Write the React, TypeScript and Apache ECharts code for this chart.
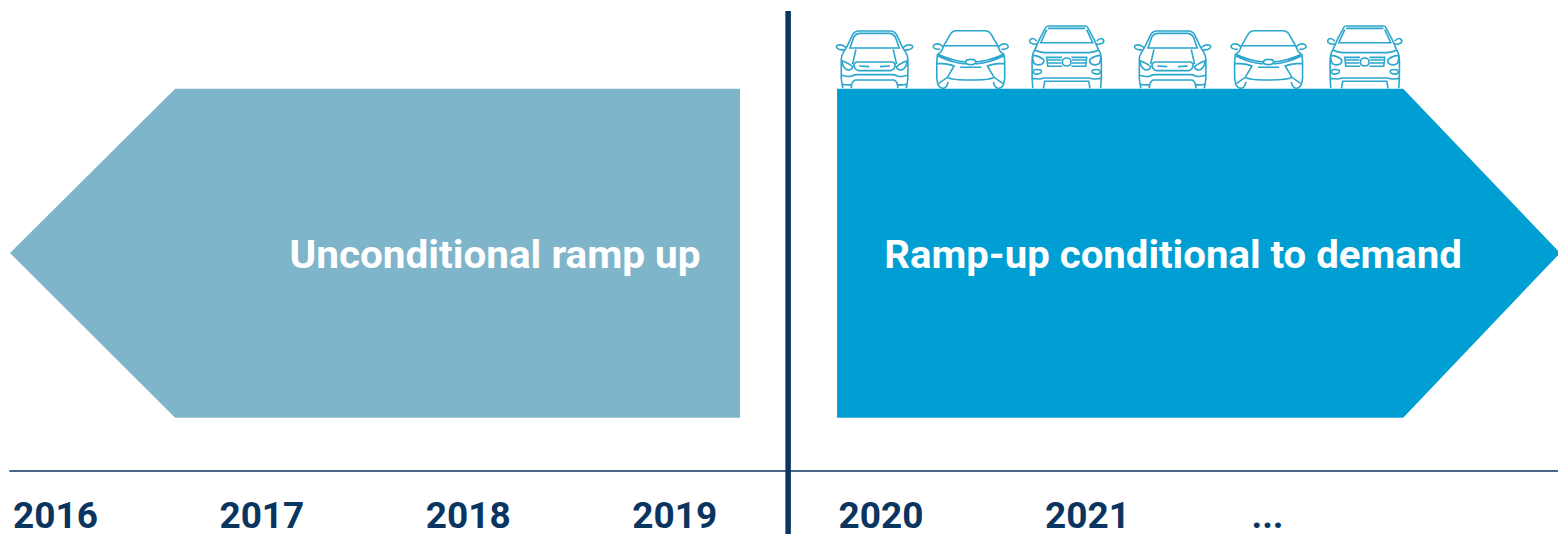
import React, { useEffect, useRef } from "react";
import * as echarts from "echarts";

const yearLabels = ["2016", "2017", "2018", "2019", "2020", "2021", "..."];

// [tail, shoulder, tip] of each arrow along the year axis
const unconditionalSpan = [2019.537, 2016.8, 2016];
const conditionalSpan = [2020.007, 2022.75, 2023.51];
const arrowBand = [53.3, 382.3, 218];
const textLevel = 215.5;
const dividerYear = 2019.77;
const dividerExtent = [-63, 460];

const unconditionalText = "Unconditional ramp up";
const conditionalText = "Ramp-up conditional to demand";

const carYears = [2020.189, 2020.655, 2021.12, 2021.633, 2022.098, 2022.564];
const carModels = ["carA", "carB", "carC", "carA", "carB", "carC"];

const NAVY = "#0b3561";
const LIGHT = "#7fb5ca";
const BLUE = "#009fd3";
const CAR_LINE = "#2ba6cd";

// Cars are symmetric: each outline is written for the left half and reflected about x = 128
const reflect = (d: string) =>
  d.replace(/(-?\d+(?:\.\d+)?) (-?\d+(?:\.\d+)?)/g, (_m, x, y) => `${256 - Number(x)} ${y}`);
const symmetric = (d: string) => `${d} ${reflect(d)}`;

const carAPath = symmetric(
  [
    "M 128 19 L 78 19 Q 68 20 62 30 L 44 68",
    "M 128 26 L 82 26 Q 72 27 66 36 L 54 70 L 128 70",
    "M 44 72 Q 36 60 22 60 Q 12 62 14 68 Q 18 76 38 76",
    "M 44 68 L 34 84 Q 28 92 28 104 L 28 160 L 30 178 L 33 191",
    "M 30 108 Q 42 112 58 122 Q 64 126 60 132 Q 50 140 40 132 Q 30 122 30 108",
    "M 72 74 L 62 118",
    "M 128 112 L 75 112 Q 66 114 66 124 Q 70 136 80 138 L 128 138",
    "M 82 124 L 112 126",
    "M 30 152 Q 50 158 60 154 Q 66 150 76 150 L 128 150",
    "M 128 166 L 70 166 Q 58 170 58 191",
    "M 30 178 Q 44 182 58 180",
  ].join(" ")
);

const carBPath = symmetric(
  [
    "M 128 18 L 85 18 Q 72 18 66 30 L 47 63 L 128 63",
    "M 44 66 Q 36 56 24 58 Q 14 60 16 68 Q 20 74 36 74",
    "M 47 63 L 40 80 L 28 90 L 26 110 L 26 160 Q 28 176 30 180",
    "M 28 88 Q 70 108 112 112",
    "M 30 94 Q 70 114 112 118",
    "M 128 104 Q 114 104 112 112 Q 114 120 128 120",
    "M 28 116 Q 60 116 78 124 L 58 158 L 32 176",
    "M 96 128 L 128 128",
    "M 58 158 Q 70 166 128 166",
    "M 30 180 Q 36 192 46 191 Q 56 190 60 172",
  ].join(" ")
);

const carCPath = symmetric(
  [
    "M 128 16 L 72 16 Q 66 16 64 22 L 46 56",
    "M 128 23 L 72 23",
    "M 128 66 L 50 66 L 68 27",
    "M 38 62 Q 30 52 22 54 Q 14 58 18 66 Q 26 72 38 70",
    "M 46 56 L 32 88 Q 24 100 24 120 L 24 170 L 26 203",
    "M 128 96 L 60 96 Q 42 94 32 88",
    "M 26 104 Q 42 104 58 116 Q 62 122 54 130 Q 40 136 30 128 Q 24 116 26 104",
    "M 114 110 L 68 110 L 71 137 L 114 137",
    "M 72 118 L 112 118",
    "M 72 127 L 112 127",
    "M 128 112 Q 115 112 115 124 Q 115 136 128 136",
    "M 28 150 Q 34 144 50 148 Q 55 154 48 158 Q 34 164 28 156 Q 27 153 28 150",
    "M 24 172 Q 44 178 60 172 L 128 172",
    "M 58 203 L 62 182 L 128 182",
  ].join(" ")
);

echarts.graphic.registerShape("carA", echarts.graphic.extendPath(carAPath, {}));
echarts.graphic.registerShape("carB", echarts.graphic.extendPath(carBPath, {}));
echarts.graphic.registerShape("carC", echarts.graphic.extendPath(carCPath, {}));

const CAR_BASE: Record<string, number> = { carA: 192, carB: 192, carC: 204 };
const CAR_SCALE = 1 / 3;

const renderArrow = (span: number[], fill: string, label: string, textYear: number, textScale: number) =>
  (_p: any, api: any) => {
    const [tail, shoulder, tip] = span;
    const [low, high, mid] = arrowBand;
    const points = [
      api.coord([tail, low]),
      api.coord([tail, high]),
      api.coord([shoulder, high]),
      api.coord([tip, mid]),
      api.coord([shoulder, low]),
    ];
    const t = api.coord([textYear, textLevel]);
    return {
      type: "group",
      children: [
        { type: "polygon", shape: { points }, style: { fill } },
        {
          type: "text",
          x: t[0],
          y: t[1],
          scaleX: textScale,
          style: {
            text: label,
            fill: "#ffffff",
            font: "bold 38px Roboto, sans-serif",
            textAlign: "center",
            textVerticalAlign: "middle",
          },
        },
      ],
    };
  };

export default function App() {
  const ref = useRef<HTMLDivElement>(null);
  useEffect(() => {
    const chart = echarts.init(ref.current!, null, { renderer: "svg" });
    chart.setOption({
      animation: false,
      backgroundColor: "#ffffff",
      grid: { left: 10, right: 0, top: 11, bottom: 66 },
      xAxis: {
        type: "value",
        min: 2016,
        max: 2023.5,
        interval: 1,
        splitLine: { show: false },
        axisTick: { show: false },
        axisLine: { show: true, lineStyle: { color: NAVY, width: 1.6 } },
        axisLabel: {
          color: NAVY,
          fontFamily: "Roboto, sans-serif",
          fontWeight: "bold",
          fontSize: 37,
          align: "left",
          margin: 26,
          padding: [0, 0, 0, 3],
          showMaxLabel: false,
          formatter: (v: number) => yearLabels[Math.round(v) - 2016] ?? "",
        },
      },
      yAxis: { type: "value", min: 0, max: 460, show: false },
      series: [
        {
          type: "custom",
          data: [[0, 0]],
          renderItem: renderArrow(unconditionalSpan, LIGHT, unconditionalText, 2018.35, 1.065),
        },
        {
          type: "custom",
          data: [[0, 0]],
          renderItem: renderArrow(conditionalSpan, BLUE, conditionalText, 2021.635, 1.057),
        },
        {
          type: "custom",
          data: carYears.map((year, i) => [year, arrowBand[1], i]),
          renderItem: (_p: any, api: any) => {
            const pt = api.coord([api.value(0), api.value(1)]);
            const model = carModels[api.value(2)];
            return {
              type: model,
              x: pt[0] - 128 * CAR_SCALE,
              y: pt[1] - CAR_BASE[model] * CAR_SCALE,
              scaleX: CAR_SCALE,
              scaleY: CAR_SCALE,
              style: { fill: "none", stroke: CAR_LINE, lineWidth: 4.8 },
            };
          },
        },
        {
          type: "custom",
          data: [[dividerYear, 0]],
          renderItem: (_p: any, api: any) => {
            const a = api.coord([dividerYear, dividerExtent[0]]);
            const b = api.coord([dividerYear, dividerExtent[1]]);
            return {
              type: "line",
              shape: { x1: a[0], y1: a[1], x2: b[0], y2: b[1] },
              style: { stroke: NAVY, lineWidth: 5.5 },
            };
          },
        },
      ],
    });
    return () => chart.dispose();
  }, []);
  return <div ref={ref} style={{ position: "absolute", left: 0, top: 0, width: 1558, height: 537 }} />;
}
